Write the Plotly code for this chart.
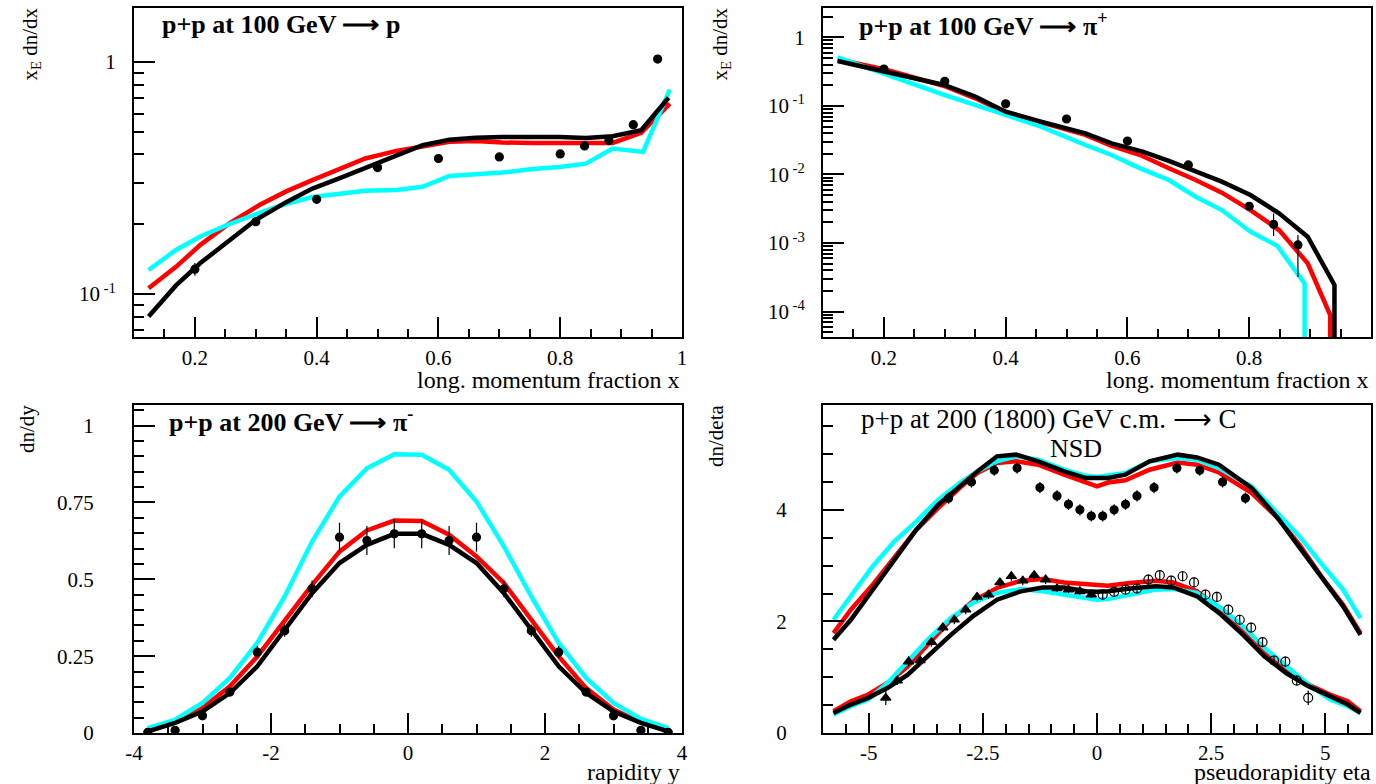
import plotly.graph_objects as go

# ---------------- Panel 1: p+p at 100 GeV -> p ----------------
p1_black_x = [0.124, 0.169, 0.209, 0.256, 0.299, 0.35, 0.393, 0.437, 0.48, 0.531, 0.574, 0.618, 0.661, 0.705, 0.755, 0.799, 0.842, 0.886, 0.933, 0.978]
p1_black_y = [0.080, 0.109, 0.136, 0.171, 0.208, 0.249, 0.285, 0.315, 0.350, 0.393, 0.438, 0.463, 0.472, 0.475, 0.477, 0.475, 0.471, 0.479, 0.508, 0.702]
p1_red_x = [0.124, 0.169, 0.209, 0.256, 0.306, 0.35, 0.393, 0.437, 0.48, 0.531, 0.574, 0.618, 0.661, 0.705, 0.755, 0.799, 0.842, 0.886, 0.933, 0.98]
p1_red_y = [0.106, 0.131, 0.163, 0.201, 0.242, 0.277, 0.310, 0.344, 0.384, 0.414, 0.435, 0.453, 0.457, 0.450, 0.448, 0.448, 0.445, 0.448, 0.495, 0.662]
p1_cyan_x = [0.124, 0.169, 0.209, 0.256, 0.306, 0.35, 0.393, 0.437, 0.48, 0.531, 0.574, 0.618, 0.661, 0.705, 0.755, 0.799, 0.842, 0.886, 0.936, 0.98]
p1_cyan_y = [0.127, 0.155, 0.177, 0.200, 0.224, 0.245, 0.262, 0.271, 0.279, 0.281, 0.290, 0.323, 0.329, 0.334, 0.346, 0.353, 0.365, 0.424, 0.410, 0.760]
p1_data_x = [0.2, 0.3, 0.4, 0.5, 0.6, 0.7, 0.8, 0.84, 0.88, 0.92, 0.96]
p1_data_y = [0.128, 0.205, 0.256, 0.351, 0.384, 0.390, 0.402, 0.435, 0.459, 0.537, 1.03]
p1_data_err = [0.008, 0.006, 0.006, 0.007, 0.007, 0.007, 0.008, 0.008, 0.009, 0.01, 0.02]

# ---------------- Panel 2: p+p at 100 GeV -> pi+ ----------------
p2_black_x = [0.124, 0.205, 0.299, 0.35, 0.4, 0.458, 0.531, 0.574, 0.625, 0.668, 0.712, 0.755, 0.802, 0.849, 0.896, 0.94, 0.94]
p2_black_y = [0.452, 0.3155, 0.2018, 0.1365, 0.0824, 0.0589, 0.0398, 0.02844, 0.02153, 0.01574, 0.01099, 0.00787, 0.00502, 0.00272, 0.00124, 0.000245, 0.00001]
p2_red_x = [0.124, 0.205, 0.299, 0.35, 0.4, 0.458, 0.531, 0.574, 0.621, 0.668, 0.712, 0.755, 0.802, 0.849, 0.896, 0.933, 0.933]
p2_red_y = [0.4775, 0.334, 0.195, 0.129, 0.0798, 0.0570, 0.0377, 0.0261, 0.01923, 0.0123, 0.00832, 0.00543, 0.00303, 0.00155, 0.000507, 0.0000893, 0.00001]
p2_cyan_x = [0.124, 0.205, 0.299, 0.4, 0.458, 0.531, 0.574, 0.621, 0.668, 0.712, 0.755, 0.802, 0.846, 0.891, 0.891]
p2_cyan_y = [0.5105, 0.2825, 0.1442, 0.0738, 0.0498, 0.0269, 0.01923, 0.0123, 0.00832, 0.00475, 0.00303, 0.001466, 0.000916, 0.000259, 0.00001]
p2_data_x = [0.2, 0.3, 0.4, 0.5, 0.6, 0.7, 0.8, 0.84, 0.88]
p2_data_y = [0.345, 0.228, 0.107, 0.0644, 0.0308, 0.01377, 0.00344, 0.00188, 0.00094]
p2_err_plus = [0.01, 0.007, 0.003, 0.002, 0.001, 0.0005, 0.0002, 0.00083, 0.00037]
p2_err_minus = [0.01, 0.007, 0.003, 0.002, 0.001, 0.0005, 0.0002, 0.00061, 0.00062]

# ---------------- Panel 3: p+p at 200 GeV -> pi- ----------------
p3_x = [-3.8, -3.4, -3.0, -2.6, -2.2, -1.8, -1.4, -1.0, -0.6, -0.2, 0.2, 0.6, 1.0, 1.4, 1.8, 2.2, 2.6, 3.0, 3.4, 3.8]
p3_black_y = [0.005, 0.033, 0.070, 0.130, 0.217, 0.336, 0.455, 0.553, 0.612, 0.648, 0.648, 0.612, 0.553, 0.455, 0.336, 0.217, 0.130, 0.070, 0.033, 0.005]
p3_red_y = [0.005, 0.036, 0.081, 0.152, 0.249, 0.363, 0.482, 0.590, 0.659, 0.691, 0.690, 0.645, 0.574, 0.488, 0.368, 0.249, 0.146, 0.076, 0.035, 0.009]
p3_cyan_y = [0.016, 0.043, 0.098, 0.179, 0.293, 0.444, 0.623, 0.769, 0.861, 0.907, 0.905, 0.856, 0.753, 0.607, 0.444, 0.293, 0.179, 0.098, 0.046, 0.016]
p3_data_y = [0.002, 0.009, 0.056, 0.133, 0.263, 0.333, 0.469, 0.637, 0.626, 0.648, 0.648, 0.626, 0.637, 0.469, 0.333, 0.263, 0.133, 0.056, 0.009, 0.002]
p3_data_err = [0.005, 0.005, 0.008, 0.01, 0.02, 0.02, 0.027, 0.047, 0.047, 0.047, 0.047, 0.047, 0.047, 0.027, 0.02, 0.02, 0.01, 0.008, 0.005, 0.005]

# ---------------- Panel 4: p+p at 200 (1800) GeV c.m. -> C ----------------
p4_nsd_x = [-5.77, -5.39, -4.91, -4.44, -3.96, -3.48, -3.01, -2.62, -2.19, -1.77, -1.29, -0.72, -0.24, 0.0, 0.24, 0.62, 1.15, 1.77, 2.19, 2.67, 3.39, 3.96, 4.44, 4.91, 5.39, 5.77]
p4_nsd_black = [1.67, 2.03, 2.57, 3.10, 3.64, 4.09, 4.42, 4.69, 4.96, 4.99, 4.87, 4.69, 4.57, 4.56, 4.57, 4.63, 4.87, 4.99, 4.94, 4.81, 4.39, 3.85, 3.31, 2.78, 2.27, 1.76]
p4_nsd_red = [1.79, 2.21, 2.66, 3.16, 3.64, 4.03, 4.39, 4.66, 4.84, 4.87, 4.81, 4.63, 4.48, 4.42, 4.49, 4.53, 4.72, 4.85, 4.81, 4.67, 4.30, 3.85, 3.37, 2.81, 2.30, 1.79]
p4_nsd_cyan = [2.03, 2.45, 2.99, 3.43, 3.79, 4.18, 4.48, 4.69, 4.87, 4.96, 4.90, 4.72, 4.61, 4.59, 4.61, 4.66, 4.87, 4.93, 4.90, 4.75, 4.42, 3.94, 3.52, 3.04, 2.57, 2.06]
p4_low_x = [-5.77, -5.39, -5.01, -4.58, -4.15, -3.67, -3.20, -2.72, -2.19, -1.67, -1.19, -0.72, -0.24, 0.0, 0.24, 0.72, 1.29, 1.67, 2.19, 2.72, 3.20, 3.67, 4.15, 4.63, 5.10, 5.49, 5.77]
p4_low_black = [0.36, 0.51, 0.63, 0.81, 1.04, 1.40, 1.76, 2.09, 2.39, 2.54, 2.61, 2.61, 2.54, 2.53, 2.54, 2.59, 2.63, 2.61, 2.45, 2.12, 1.76, 1.37, 1.07, 0.84, 0.66, 0.51, 0.36]
p4_low_red = [0.39, 0.57, 0.69, 0.90, 1.19, 1.61, 2.03, 2.36, 2.60, 2.73, 2.76, 2.70, 2.66, 2.64, 2.64, 2.69, 2.73, 2.70, 2.54, 2.21, 1.82, 1.43, 1.10, 0.87, 0.69, 0.57, 0.39]
p4_low_cyan = [0.33, 0.48, 0.60, 0.90, 1.28, 1.70, 2.06, 2.33, 2.51, 2.58, 2.54, 2.48, 2.42, 2.39, 2.40, 2.48, 2.57, 2.58, 2.51, 2.24, 1.91, 1.52, 1.19, 0.87, 0.60, 0.48, 0.36]
p4_nsd_data_x = [-3.25, -2.75, -2.25, -1.75, -1.25, -0.875, -0.625, -0.375, -0.125, 0.125, 0.375, 0.625, 0.875, 1.25, 1.75, 2.25, 2.75, 3.25]
p4_nsd_data_y = [4.21, 4.50, 4.71, 4.75, 4.40, 4.25, 4.10, 4.00, 3.89, 3.89, 4.00, 4.10, 4.25, 4.40, 4.75, 4.71, 4.50, 4.21]
p4_nsd_data_err = [0.1] * 18
p4_tri_x = [-4.625, -4.375, -4.125, -3.875, -3.625, -3.375, -3.125, -2.875, -2.625, -2.375, -2.125, -1.875, -1.625, -1.375, -1.125, -0.875, -0.625, -0.375, -0.125]
p4_tri_y = [0.63, 0.94, 1.28, 1.30, 1.63, 1.89, 2.03, 2.21, 2.44, 2.48, 2.70, 2.81, 2.73, 2.83, 2.75, 2.59, 2.57, 2.54, 2.48]
p4_tri_err = [0.13, 0.08, 0.09, 0.08, 0.08, 0.08, 0.08, 0.08, 0.08, 0.08, 0.08, 0.08, 0.08, 0.08, 0.08, 0.06, 0.06, 0.06, 0.06]
p4_open_x = [0.125, 0.375, 0.625, 0.875, 1.125, 1.375, 1.625, 1.875, 2.125, 2.375, 2.625, 2.875, 3.125, 3.375, 3.625, 3.875, 4.125, 4.375, 4.625]
p4_open_y = [2.48, 2.53, 2.57, 2.59, 2.75, 2.83, 2.73, 2.81, 2.70, 2.48, 2.44, 2.21, 2.03, 1.89, 1.63, 1.30, 1.28, 0.94, 0.63]
p4_open_err = [0.09] * 18 + [0.13]

# ---------------- figure ----------------
W, H = 1376, 784
BLACK, RED, CYAN = "#000000", "#ff0000", "#00ffff"
FONT = "Times New Roman, Liberation Serif, Times, serif"
LW = 4.5
ARROW = "\u27f6"

fig = go.Figure()


def line(x, y, color, n):
    fig.add_trace(go.Scatter(x=x, y=y, mode="lines", line=dict(color=color, width=LW),
                             xaxis="x" + n, yaxis="y" + n, showlegend=False, hoverinfo="skip"))


def points(x, y, err, n, symbol="circle", size=8, errminus=None):
    ey = dict(type="data", array=err, color="black", thickness=1.2, width=0, visible=True)
    if errminus is not None:
        ey["symmetric"] = False
        ey["arrayminus"] = errminus
    fig.add_trace(go.Scatter(x=x, y=y, mode="markers",
                             marker=dict(symbol=symbol, size=size, color="black", line=dict(color="black", width=1.2)),
                             error_y=ey, xaxis="x" + n, yaxis="y" + n, showlegend=False, hoverinfo="skip"))


# panel 1
line(p1_red_x, p1_red_y, RED, "")
line(p1_cyan_x, p1_cyan_y, CYAN, "")
line(p1_black_x, p1_black_y, BLACK, "")
points(p1_data_x, p1_data_y, p1_data_err, "")
# panel 2
line(p2_red_x, p2_red_y, RED, "2")
line(p2_cyan_x, p2_cyan_y, CYAN, "2")
line(p2_black_x, p2_black_y, BLACK, "2")
points(p2_data_x, p2_data_y, p2_err_plus, "2", errminus=p2_err_minus)
# panel 3
line(p3_x, p3_red_y, RED, "3")
line(p3_x, p3_cyan_y, CYAN, "3")
line(p3_x, p3_black_y, BLACK, "3")
points(p3_x, p3_data_y, p3_data_err, "3")
# panel 4
line(p4_nsd_x, p4_nsd_red, RED, "4")
line(p4_nsd_x, p4_nsd_cyan, CYAN, "4")
line(p4_nsd_x, p4_nsd_black, BLACK, "4")
line(p4_low_x, p4_low_red, RED, "4")
line(p4_low_x, p4_low_cyan, CYAN, "4")
line(p4_low_x, p4_low_black, BLACK, "4")
points(p4_nsd_data_x, p4_nsd_data_y, p4_nsd_data_err, "4")
points(p4_tri_x, p4_tri_y, p4_tri_err, "4", symbol="triangle-up", size=9)
points(p4_open_x, p4_open_y, p4_open_err, "4", symbol="circle-open", size=9)


def ax(**kw):
    d = dict(showline=True, linecolor="black", linewidth=2, mirror=True, ticks="inside",
             tickcolor="black", tickwidth=1.5, showgrid=False, zeroline=False, automargin=False,
             tickfont=dict(family=FONT, size=21, color="black"), tickmode="array")
    d.update(kw)
    return d


def minor(**kw):
    d = dict(ticks="inside", ticklen=9, tickcolor="black", tickwidth=1.5, showgrid=False)
    d.update(kw)
    return d


xL = [134 / W, 682 / W]
xR = [823 / W, 1371 / W]
yT = [1 - 337 / H, 1 - 8 / H]
yB = [1 - 733 / H, 1 - 405 / H]

x01_ticks = [0.2, 0.4, 0.6, 0.8, 1.0]
x01_text = ["0.2", "0.4", "0.6", "0.8", "1"]
x01_minor = [round(0.1 + 0.05 * i, 2) for i in range(19)]

p1_ymin = [0.07, 0.08, 0.09, 0.2, 0.3, 0.4, 0.5, 0.6, 0.7, 0.8, 0.9]
p2_ymin = [m * 10.0 ** e for e in (-5, -4, -3, -2, -1, 0) for m in range(2, 10)]

fig.update_layout(
    width=W, height=H, margin=dict(l=0, r=0, t=0, b=0),
    paper_bgcolor="white", plot_bgcolor="white", showlegend=False,
    font=dict(family=FONT, size=21, color="black"),
    xaxis=ax(domain=xL, anchor="y", range=[0.1, 1.0], tickvals=x01_ticks, ticktext=x01_text, ticklen=20,
             ticklabelstandoff=1, minor=minor(tickvals=x01_minor, ticklen=8)),
    yaxis=ax(domain=yT, anchor="x", type="log", range=[-1.185, 0.233], tickvals=[0.1, 1],
             ticktext=["10<sup> -1</sup>", "1"], ticklen=21, ticklabelstandoff=12,
             minor=minor(tickvals=p1_ymin, ticklen=10)),
    xaxis2=ax(domain=xR, anchor="y2", range=[0.1, 1.0], tickvals=x01_ticks, ticktext=x01_text, ticklen=20,
              ticklabelstandoff=1, minor=minor(tickvals=x01_minor, ticklen=8)),
    yaxis2=ax(domain=yT, anchor="x2", type="log", range=[-4.369, 0.427],
              tickvals=[1e-4, 1e-3, 1e-2, 1e-1, 1],
              ticktext=["10<sup> -4</sup>", "10<sup> -3</sup>", "10<sup> -2</sup>", "10<sup> -1</sup>", "1"],
              ticklen=21, ticklabelstandoff=12, minor=minor(tickvals=p2_ymin, ticklen=10)),
    xaxis3=ax(domain=xL, anchor="y3", range=[-4, 4], tickvals=[-4, -2, 0, 2, 4],
              ticktext=["-4", "-2", "0", "2", "4"], ticklen=20, ticklabelstandoff=0,
              minor=minor(tickmode="linear", tick0=0, dtick=0.5, ticklen=9)),
    yaxis3=ax(domain=yB, anchor="x3", range=[0, 1.067], tickvals=[0, 0.25, 0.5, 0.75, 1],
              ticktext=["0", "0.25", "0.5", "0.75", "1"], ticklen=21, ticklabelstandoff=34,
              minor=minor(tickmode="linear", tick0=0, dtick=0.05, ticklen=10)),
    xaxis4=ax(domain=xR, anchor="y4", range=[-6, 6], tickvals=[-5, -2.5, 0, 2.5, 5],
              ticktext=["-5", "-2.5", "0", "2.5", "5"], ticklen=20, ticklabelstandoff=0,
              minor=minor(tickmode="linear", tick0=0, dtick=0.5, ticklen=9)),
    yaxis4=ax(domain=yB, anchor="x4", range=[0, 5.88], tickvals=[0, 2, 4],
              ticktext=["0", "2", "4"], ticklen=21, ticklabelstandoff=30,
              minor=minor(tickmode="linear", tick0=0, dtick=0.5, ticklen=10)),
)


def ann(text, x, y, xanchor="left", yanchor="middle", size=22, bold=False, angle=0):
    fig.add_annotation(text=text, x=x / W, y=1 - y / H, xref="paper", yref="paper",
                       xanchor=xanchor, yanchor=yanchor, showarrow=False, textangle=angle,
                       font=dict(family=FONT, size=size, color="black", weight="bold" if bold else "normal"))


# panel titles
ann("p+p at 100 GeV " + ARROW + " p", 160, 24, size=26, bold=True)
ann("p+p at 100 GeV " + ARROW + " \u03c0<sup>+</sup>", 857, 24, size=26, bold=True)
ann("p+p at 200 GeV " + ARROW + " \u03c0<sup>-</sup>", 167, 420, size=26, bold=True)
ann("p+p at 200 (1800) GeV c.m. " + ARROW + " C", 859, 419, size=27)
ann("NSD", 1076, 448, xanchor="center", size=26)

# axis titles
ann("long. momentum fraction x", 682, 380, xanchor="right", size=24)
ann("long. momentum fraction x", 1371, 380, xanchor="right", size=24)
ann("rapidity y", 682, 772, xanchor="right", size=24)
ann("pseudorapidity eta", 1373, 772, xanchor="right", size=24)
ann("x<sub>E</sub> dn/dx", 30, 6, xanchor="center", yanchor="top", size=21, angle=-90)
ann("x<sub>E</sub> dn/dx", 720, 6, xanchor="center", yanchor="top", size=21, angle=-90)
ann("dn/dy", 27, 403, xanchor="center", yanchor="top", size=21, angle=-90)
ann("dn/deta", 716, 403, xanchor="center", yanchor="top", size=21, angle=-90)

fig.write_html("out.html")
